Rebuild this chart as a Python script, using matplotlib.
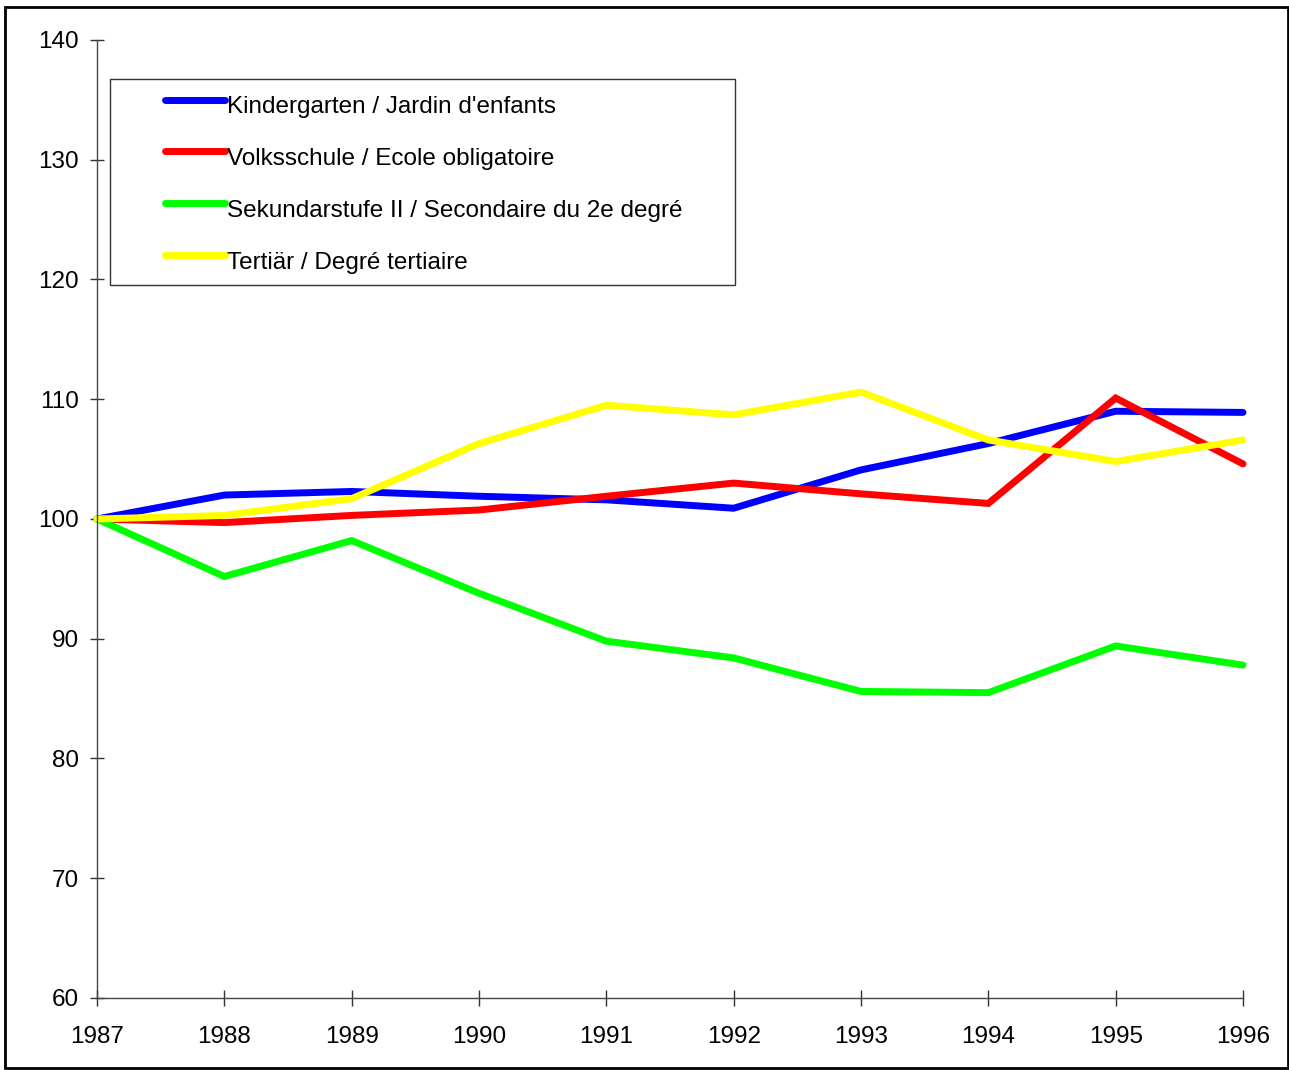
import matplotlib.pyplot as plt
from matplotlib.patches import Rectangle
from matplotlib.transforms import ScaledTranslation

years = [1987, 1988, 1989, 1990, 1991, 1992, 1993, 1994, 1995, 1996]
kindergarten = [100, 102.0, 102.3, 101.9, 101.6, 100.9, 104.1, 106.3, 109.0, 108.9]
volksschule = [100, 99.7, 100.3, 100.75, 101.9, 103.0, 102.1, 101.3, 110.1, 104.6]
sekundar = [100, 95.2, 98.2, 93.8, 89.8, 88.4, 85.6, 85.5, 89.4, 87.8]
tertiaer = [100, 100.3, 101.7, 106.3, 109.5, 108.7, 110.6, 106.6, 104.8, 106.6]

labels = [
    "Kindergarten / Jardin d'enfants",
    "Volksschule / Ecole obligatoire",
    "Sekundarstufe II / Secondaire du 2e degré",
    "Tertiär / Degré tertiaire",
]
colors = ["#0000ff", "#ff0000", "#00ff00", "#ffff00"]
yticks = [60, 70, 80, 90, 100, 110, 120, 130, 140]

plt.rcParams["font.family"] = ["Liberation Sans", "DejaVu Sans"]

fig = plt.figure(figsize=(12.89, 10.70), dpi=100)
ax = fig.add_axes([97 / 1289, 72 / 1070, 1146 / 1289, 958 / 1070])

for series, lab, col in zip([kindergarten, volksschule, sekundar, tertiaer], labels, colors):
    ax.plot(years, series, color=col, lw=5, label=lab, solid_capstyle="round",
            solid_joinstyle="miter", clip_on=False)

ax.set_xlim(1987, 1996)
ax.set_ylim(60, 140)
ax.set_xticks(years)
ax.set_yticks(yticks)
ax.tick_params(axis="both", direction="inout", color="#333333", width=1, labelsize=17.5)
ax.tick_params(axis="y", length=10, pad=8)
ax.tick_params(axis="x", length=12, pad=14)

for s in ["top", "right"]:
    ax.spines[s].set_visible(False)
for s in ["left", "bottom"]:
    ax.spines[s].set_color("#444444")
    ax.spines[s].set_linewidth(1)

# legend without frame, box drawn separately
leg = ax.legend(loc="upper left", bbox_to_anchor=((165 - 97) / 1146, (998 - 91) / 958),
                frameon=False, borderpad=0, fontsize=17.5, handlelength=2.45,
                handletextpad=0.12, labelspacing=1.23, borderaxespad=0)
for h in leg.get_lines():
    h.set_linewidth(5)
    h.set_solid_capstyle("round")
for t in leg.get_texts():
    t.set_transform(t.get_transform() + ScaledTranslation(0, -0.05, fig.dpi_scale_trans))

ax.add_patch(Rectangle(((110 - 97) / 1146, (998 - 285) / 958), 625 / 1146, 206 / 958,
                       transform=ax.transAxes, fill=False, edgecolor="#333333", lw=1, zorder=5))

fig.patches.append(Rectangle((5 / 1289, 2 / 1070), 1283 / 1289, 1061 / 1070,
                             transform=fig.transFigure, fill=False, edgecolor="black", lw=2))

fig.savefig("out.png", dpi=100)
